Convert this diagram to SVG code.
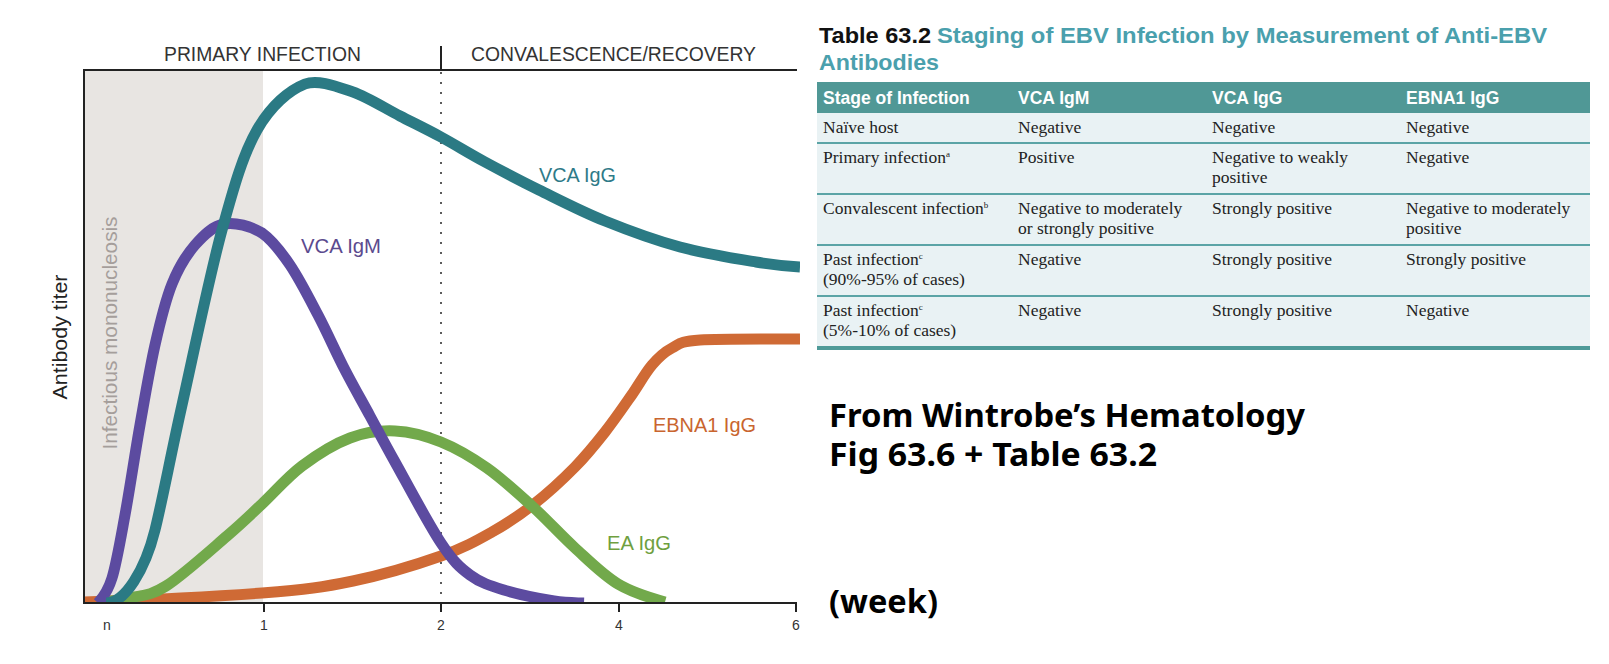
<svg xmlns="http://www.w3.org/2000/svg" width="1609" height="664" viewBox="0 0 1609 664">
<style>
  .ax{stroke:#222;stroke-width:2;fill:none}
  .cv{fill:none;stroke-width:11;stroke-linecap:butt;stroke-linejoin:round}
  .hd{font-family:"Liberation Sans",Arial,sans-serif;font-size:20px;fill:#333}
  .lbl{font-family:"Liberation Sans",Arial,sans-serif;font-size:20px}
  .tk{font-family:"Liberation Sans",Arial,sans-serif;font-size:14px;fill:#333;text-anchor:middle}
  .th{font-family:"Liberation Sans",Arial,sans-serif;font-size:17.5px;font-weight:bold;fill:#fff}
  .td{font-family:"Liberation Serif","Times New Roman",serif;font-size:17.5px;fill:#222}
  .sup{font-size:9px}
  .rl{stroke:#5ba4a6;stroke-width:2}
  .note{font-family:"Noto Sans","Open Sans",sans-serif;font-size:32px;font-weight:bold;fill:#000}
</style>
<defs>
  <clipPath id="plot"><rect x="84" y="60" width="716" height="543"/></clipPath>
</defs>
<rect width="1609" height="664" fill="#fff"/>

<g id="chart">
  <rect id="mono-shade" x="84" y="70" width="179" height="533" fill="#e8e5e2"/>
  <text id="mono-label" class="lbl" transform="translate(117,333) rotate(-90)" text-anchor="middle" font-size="21" fill="#a59e9b" textLength="233" lengthAdjust="spacingAndGlyphs">Infectious mononucleosis</text>
  <text id="y-label" class="lbl" transform="translate(67,337) rotate(-90)" text-anchor="middle" font-size="18" fill="#222" textLength="125" lengthAdjust="spacingAndGlyphs">Antibody titer</text>
  <line id="divider-dotted" x1="441" y1="72" x2="441" y2="603" stroke="#333" stroke-width="1.6" stroke-dasharray="2 8"/>
  <line id="divider-solid" x1="441" y1="46" x2="441" y2="70" stroke="#222" stroke-width="2"/>
  <text class="hd" x="164" y="61" textLength="197" lengthAdjust="spacingAndGlyphs">PRIMARY INFECTION</text>
  <text class="hd" x="471" y="61" textLength="285" lengthAdjust="spacingAndGlyphs">CONVALESCENCE/RECOVERY</text>
</g>

<g id="connectors" clip-path="url(#plot)">
  <path id="ebna1-igg" class="cv" stroke="#cf6a35" d="M84,602 C127.7,600.5 217.2,596.5 262,593 C306.8,589.5 323.2,587.2 353,581 C382.8,574.8 417.8,564.2 441,556 C464.2,547.8 476.5,540.7 492,532 C507.5,523.3 520.2,514.8 534,504 C547.8,493.2 563.2,479 575,467 C586.8,455 595.7,443.8 605,432 C614.3,420.2 623.2,407.2 631,396 C638.8,384.8 645.2,373 652,365 C658.8,357 664,352.2 672,348 C680,343.8 678.7,341.5 700,340 C721.3,338.5 766.7,339.2 800,339"/>
  <path id="ea-igg" class="cv" stroke="#72a94b" d="M100,602 C108.3,601.2 119,600.7 130,598 C141,595.3 149.8,596.3 166,586 C182.2,575.7 211,549.7 227,536 C243,522.3 249.5,515.7 262,504 C274.5,492.3 287.3,477 302,466 C316.7,455 334.5,443.8 350,438 C365.5,432.2 379.8,430.3 395,431 C410.2,431.7 425.7,435.8 441,442 C456.3,448.2 471.8,457.3 487,468 C502.2,478.7 517.3,492.7 532,506 C546.7,519.3 560.7,535 575,548 C589.3,561 603,575 618,584 C633,593 653,598.7 665,602"/>
  <path id="vca-igm" class="cv" stroke="#5c4ba0" d="M98,603 C102,598.5 107.5,592.7 112,578 C116.5,563.3 120.3,540.5 125,515 C129.7,489.5 135,453.3 140,425 C145,396.7 149.7,368.5 155,345 C160.3,321.5 165.3,300.7 172,284 C178.7,267.3 186.3,255 195,245 C203.7,235 212.8,226 224,224 C235.2,222 251,226.2 262,233 C272.3,240.2 280.7,251.3 290,265 C299.3,278.7 308.8,297.5 318,315 C327.2,332.5 336.3,353.2 345,370 C353.7,386.8 361.7,400.7 370,416 C378.3,431.3 383.2,440.8 395,462 C406.8,483.2 428.5,524.2 441,543 C453.5,561.8 459.5,567.2 470,575 C480.5,582.8 490,585.7 504,590 C518,594.3 540.7,598.8 554,601 C567.3,603.2 576.3,602.7 584,603"/>
  <path id="vca-igg" class="cv" stroke="#2b7a84" d="M106,603 C125,603 145,570 155,530 C162,502 170.8,455 182,405 C193.2,355 209.5,275.8 222,230 C234.5,184.2 243.2,154.3 257,130 C270.8,105.7 289,90.3 305,84 C318,79 337.2,86.7 353,92 C368,97.3 385.3,108.5 400,116 C414.7,123.5 426.8,129.3 441,137 C455.2,144.7 468.7,153.2 485,162 C501.3,170.8 519,180.2 539,190 C559,199.8 581.5,211.5 605,221 C628.5,230.5 654.8,240.2 680,247 C705.2,253.8 736,258.7 756,262 C776,265.3 779.3,265.7 800,267"/>
</g>

<g id="axes">
  <line class="ax" x1="84" y1="70" x2="797" y2="70"/>
  <line class="ax" x1="84" y1="69" x2="84" y2="604"/>
  <line class="ax" x1="83" y1="603" x2="797" y2="603"/>
  <line class="ax" x1="264" y1="603" x2="264" y2="612"/>
  <line class="ax" x1="441" y1="603" x2="441" y2="612"/>
  <line class="ax" x1="619" y1="603" x2="619" y2="612"/>
  <line class="ax" x1="796" y1="603" x2="796" y2="612"/>
  <text class="tk" x="107" y="630">n</text>
  <text class="tk" x="264" y="630">1</text>
  <text class="tk" x="441" y="630">2</text>
  <text class="tk" x="619" y="630">4</text>
  <text class="tk" x="796" y="630">6</text>
</g>

<g id="curve-labels">
  <text id="lbl-vca-igg" class="lbl" x="539" y="182" fill="#2e7a88" textLength="77" lengthAdjust="spacingAndGlyphs">VCA IgG</text>
  <text id="lbl-vca-igm" class="lbl" x="301" y="253" fill="#5b4a8e" textLength="80" lengthAdjust="spacingAndGlyphs">VCA IgM</text>
  <text id="lbl-ebna1" class="lbl" x="653" y="432" fill="#c9652f" textLength="103" lengthAdjust="spacingAndGlyphs">EBNA1 IgG</text>
  <text id="lbl-ea" class="lbl" x="607" y="550" fill="#6f9f3f" textLength="64" lengthAdjust="spacingAndGlyphs">EA IgG</text>
</g>

<g id="table">
  <text x="819" y="43" font-family="Liberation Sans,Arial,sans-serif" font-size="22" font-weight="bold" fill="#111" textLength="112" lengthAdjust="spacingAndGlyphs">Table 63.2</text>
  <text x="937" y="43" font-family="Liberation Sans,Arial,sans-serif" font-size="22" font-weight="bold" fill="#4aa0ad" textLength="610" lengthAdjust="spacingAndGlyphs">Staging of EBV Infection by Measurement of Anti-EBV</text>
  <text x="819" y="70" font-family="Liberation Sans,Arial,sans-serif" font-size="22" font-weight="bold" fill="#4aa0ad" textLength="120" lengthAdjust="spacingAndGlyphs">Antibodies</text>
  <rect x="817" y="82" width="773" height="31" fill="#509896"/>
  <rect x="817" y="113" width="773" height="234" fill="#e9f2f4"/>
  <line class="rl" x1="817" y1="143" x2="1590" y2="143"/>
  <line class="rl" x1="817" y1="194" x2="1590" y2="194"/>
  <line class="rl" x1="817" y1="245" x2="1590" y2="245"/>
  <line class="rl" x1="817" y1="296" x2="1590" y2="296"/>
  <line x1="817" y1="348" x2="1590" y2="348" stroke="#4e9a98" stroke-width="4"/>
  <text class="th" x="823" y="104">Stage of Infection</text>
  <text class="th" x="1018" y="104">VCA IgM</text>
  <text class="th" x="1212" y="104">VCA IgG</text>
  <text class="th" x="1406" y="104">EBNA1 IgG</text>

  <text class="td" x="823" y="133">Naïve host</text>
  <text class="td" x="1018" y="133">Negative</text>
  <text class="td" x="1212" y="133">Negative</text>
  <text class="td" x="1406" y="133">Negative</text>

  <text class="td" x="823" y="163">Primary infection<tspan class="sup" dy="-6">a</tspan></text>
  <text class="td" x="1018" y="163">Positive</text>
  <text class="td" x="1212" y="163">Negative to weakly</text>
  <text class="td" x="1212" y="183">positive</text>
  <text class="td" x="1406" y="163">Negative</text>

  <text class="td" x="823" y="214">Convalescent infection<tspan class="sup" dy="-6">b</tspan></text>
  <text class="td" x="1018" y="214">Negative to moderately</text>
  <text class="td" x="1018" y="234">or strongly positive</text>
  <text class="td" x="1212" y="214">Strongly positive</text>
  <text class="td" x="1406" y="214">Negative to moderately</text>
  <text class="td" x="1406" y="234">positive</text>

  <text class="td" x="823" y="265">Past infection<tspan class="sup" dy="-6">c</tspan></text>
  <text class="td" x="823" y="285">(90%-95% of cases)</text>
  <text class="td" x="1018" y="265">Negative</text>
  <text class="td" x="1212" y="265">Strongly positive</text>
  <text class="td" x="1406" y="265">Strongly positive</text>

  <text class="td" x="823" y="316">Past infection<tspan class="sup" dy="-6">c</tspan></text>
  <text class="td" x="823" y="336">(5%-10% of cases)</text>
  <text class="td" x="1018" y="316">Negative</text>
  <text class="td" x="1212" y="316">Strongly positive</text>
  <text class="td" x="1406" y="316">Negative</text>
</g>

<g id="notes">
  <text class="note" x="829" y="427" textLength="476" lengthAdjust="spacingAndGlyphs">From Wintrobe’s Hematology</text>
  <text class="note" x="829" y="466" textLength="328" lengthAdjust="spacingAndGlyphs">Fig 63.6 + Table 63.2</text>
  <text class="note" x="829" y="613" textLength="109" lengthAdjust="spacingAndGlyphs">(week)</text>
</g>
</svg>
